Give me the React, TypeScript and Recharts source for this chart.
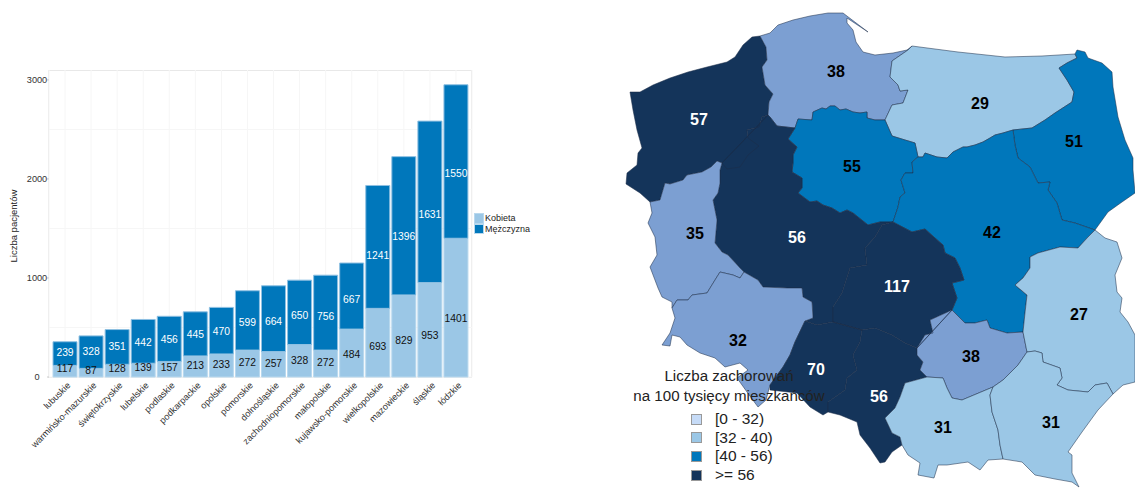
import {
  BarChart,
  Bar,
  XAxis,
  YAxis,
  CartesianGrid,
  LabelList,
  Legend,
  ScatterChart,
  Scatter,
} from "recharts";

// bar chart data
const regions = [
  "lubuskie",
  "warmińsko-mazurskie",
  "świętokrzyskie",
  "lubelskie",
  "podlaskie",
  "podkarpackie",
  "opolskie",
  "pomorskie",
  "dolnośląskie",
  "zachodniopomorskie",
  "małopolskie",
  "kujawsko-pomorskie",
  "wielkopolskie",
  "mazowieckie",
  "śląskie",
  "łódzkie",
];
const women = [117, 87, 128, 139, 157, 213, 233, 272, 257, 328, 272, 484, 693, 829, 953, 1401];
const men = [239, 328, 351, 442, 456, 445, 470, 599, 664, 650, 756, 667, 1241, 1396, 1631, 1550];
const yTicks = [0, 1000, 2000, 3000];
const yMinor = [500, 1500, 2500];

const barData = regions.map((region, i) => ({ region, Kobieta: women[i], Mężczyzna: men[i] }));

const LIGHT = "#9bc7e6";
const MID = "#0077bb";
const DARK = "#14345a";
const PERI = "#7c9fd2";

// map outline, shared borders in picture units
type Pt = [number, number];
const zachCoast: Pt[] = [[630, 92], [640, 92], [653, 85], [670, 78], [688, 72], [707, 67], [727, 62], [735, 57], [743, 45], [752, 37], [760, 36]];
const zachPom: Pt[] = [[760, 36], [766, 47], [767, 60], [762, 67], [765, 85], [773, 94], [769, 102], [768, 115]];
const zachWielk: Pt[] = [[768, 115], [762, 117], [759, 127], [747, 130], [748, 138], [759, 146], [748, 155], [740, 167], [727, 169], [722, 163]];
const zachLub: Pt[] = [[722, 163], [717, 161], [711, 167], [702, 172], [687, 175], [683, 180], [670, 184], [665, 183], [660, 200], [650, 202]];
const zachWest: Pt[] = [[650, 202], [640, 193], [626, 184], [627, 173], [637, 165], [638, 153], [642, 148], [637, 130], [633, 110], [630, 92]];
const pomCoast: Pt[] = [[760, 36], [770, 33], [778, 25], [793, 20], [810, 16], [828, 13], [843, 13], [868, 32], [865, 30], [847, 18], [847, 23], [853, 30], [856, 42], [863, 52], [875, 55], [893, 53], [907, 50], [912, 46]];
const pomWarm: Pt[] = [[912, 46], [908, 50], [892, 61], [890, 77], [898, 85], [900, 91], [908, 90], [903, 103], [892, 105], [885, 120]];
const pomKuj: Pt[] = [[885, 120], [875, 120], [867, 118], [867, 112], [860, 113], [853, 112], [846, 109], [840, 110], [835, 106], [830, 106], [826, 109], [822, 108], [813, 112], [812, 120], [798, 119], [795, 128]];
const pomWielk: Pt[] = [[795, 128], [777, 126], [770, 117], [768, 115]];
const warmCoast: Pt[] = [[912, 46], [958, 52], [1005, 57], [1042, 56], [1075, 54]];
const warmPodl: Pt[] = [[1075, 54], [1077, 58], [1067, 63], [1059, 68], [1067, 80], [1074, 92], [1072, 102], [1055, 113], [1045, 120], [1032, 128], [1013, 130]];
const warmMaz: Pt[] = [[1013, 130], [1003, 133], [995, 135], [990, 138], [983, 142], [975, 145], [967, 147], [963, 147], [953, 152], [947, 158], [937, 157], [925, 153], [923, 157], [918, 157]];
const warmKuj: Pt[] = [[918, 157], [915, 143], [905, 140], [892, 136], [885, 120]];
const podlEast: Pt[] = [[1075, 54], [1077, 50], [1085, 52], [1088, 58], [1102, 63], [1112, 72], [1113, 87], [1118, 117], [1125, 140], [1133, 158], [1133, 170], [1135, 193], [1122, 202], [1108, 212], [1095, 230]];
const podlMaz: Pt[] = [[1095, 230], [1075, 223], [1062, 220], [1057, 203], [1048, 190], [1050, 182], [1038, 183], [1030, 167], [1018, 158], [1015, 145], [1013, 130]];
const kujMaz: Pt[] = [[918, 157], [912, 162], [913, 173], [905, 173], [901, 180], [905, 193], [900, 197], [898, 207], [893, 222]];
const kujWielk: Pt[] = [[893, 222], [880, 222], [868, 225], [853, 213], [847, 210], [840, 213], [832, 208], [823, 205], [817, 201], [810, 202], [798, 193], [802, 188], [802, 178], [792, 172], [793, 163], [793, 155], [797, 147], [788, 139], [795, 128]];
const mazLub: Pt[] = [[1095, 230], [1088, 237], [1078, 248], [1060, 247], [1038, 253], [1030, 257], [1030, 268], [1023, 278], [1015, 285], [1027, 295], [1025, 313], [1023, 332]];
const mazSwiet: Pt[] = [[1023, 332], [1007, 333], [990, 328], [987, 320], [975, 323], [965, 323], [952, 310]];
const mazLodz: Pt[] = [[952, 310], [957, 298], [952, 283], [964, 280], [960, 268], [955, 258], [945, 253], [943, 245], [935, 238], [925, 229], [912, 232], [893, 222]];
const lodzWielk: Pt[] = [[893, 222], [882, 225], [875, 237], [865, 248], [867, 265], [850, 268], [842, 293], [833, 307], [833, 322]];
const lodzSlask: Pt[] = [[833, 322], [862, 330], [875, 328], [892, 335], [905, 343], [917, 348]];
const lodzSwiet: Pt[] = [[917, 348], [925, 335], [933, 333], [930, 320], [952, 310]];
const wielkLub: Pt[] = [[722, 163], [720, 170], [720, 183], [718, 193], [713, 200], [717, 220], [715, 243], [722, 252], [728, 255], [740, 268], [744, 272]];
const wielkDoln: Pt[] = [[744, 272], [758, 280], [763, 287], [787, 288], [802, 288], [803, 297], [812, 302], [813, 318], [805, 321]];
const wielkOpol: Pt[] = [[805, 321], [817, 325], [833, 322]];
const opolDoln: Pt[] = [[805, 321], [795, 342], [790, 355], [783, 367], [770, 385]];
const opolSouth: Pt[] = [[770, 385], [770, 390], [797, 393], [810, 407], [823, 415], [828, 412]];
const opolSlask: Pt[] = [[828, 412], [828, 402], [845, 390], [847, 378], [857, 370], [853, 355], [860, 342], [862, 330]];
const slaskSouth: Pt[] = [[828, 412], [840, 415], [857, 422], [860, 435], [870, 448], [880, 463], [885, 462], [892, 452], [902, 445]];
const slaskMalo: Pt[] = [[902, 445], [900, 437], [892, 433], [885, 418], [895, 408], [900, 397], [905, 383], [927, 377]];
const slaskSwiet: Pt[] = [[927, 377], [920, 370], [923, 362], [917, 355], [917, 348]];
const maloSwiet: Pt[] = [[927, 377], [943, 378], [947, 388], [952, 398], [962, 400], [993, 387]];
const maloPodk: Pt[] = [[993, 387], [990, 395], [992, 412], [998, 430], [1000, 445], [1003, 459]];
const maloSouth: Pt[] = [[1003, 459], [988, 460], [980, 470], [968, 462], [947, 465], [938, 465], [934, 478], [918, 475], [920, 463], [908, 455], [902, 445]];
const swietEast: Pt[] = [[1023, 332], [1027, 352]];
const swietPodk: Pt[] = [[1027, 352], [1018, 365], [1003, 380], [993, 387]];
const lubEast: Pt[] = [[1095, 230], [1105, 238], [1117, 242], [1122, 258], [1115, 275], [1117, 292], [1122, 298], [1120, 312], [1128, 322], [1135, 335], [1135, 382], [1123, 385], [1113, 394]];
const lubPodk: Pt[] = [[1113, 394], [1107, 383], [1095, 385], [1088, 392], [1068, 390], [1057, 385], [1062, 378], [1060, 368], [1043, 362], [1042, 353], [1035, 351], [1027, 352]];
const podkSouth: Pt[] = [[1003, 459], [1022, 462], [1035, 475], [1055, 479], [1072, 482], [1079, 487], [1072, 473], [1072, 455], [1068, 452], [1082, 432], [1098, 410], [1113, 394]];
const lubWest: Pt[] = [[650, 202], [652, 213], [648, 223], [655, 237], [657, 255], [650, 267], [658, 288], [662, 297], [672, 302], [672, 308]];
const lubDoln: Pt[] = [[672, 308], [677, 300], [688, 300], [692, 295], [707, 293], [715, 280], [720, 272], [733, 275], [740, 278], [744, 272]];
const dolnWest: Pt[] = [[672, 308], [675, 318], [670, 333], [662, 345], [670, 346], [672, 335], [680, 337], [687, 345], [700, 353], [715, 358], [725, 367], [740, 363], [748, 370], [737, 378], [747, 392], [758, 407], [766, 400], [770, 385]];

const rev = (arc: Pt[]) => [...arc].reverse();
const ring = (...arcs: Pt[][]) => arcs.flat().map(([x, y]) => ({ x, y }));

const voivodeships = [
  { name: "zachodniopomorskie", fill: DARK, outline: ring(zachCoast, zachPom, zachWielk, zachLub, zachWest) },
  { name: "pomorskie", fill: PERI, outline: ring(pomCoast, pomWarm, pomKuj, pomWielk, rev(zachPom)) },
  { name: "warmińsko-mazurskie", fill: LIGHT, outline: ring(warmCoast, warmPodl, warmMaz, warmKuj, rev(pomWarm)) },
  { name: "podlaskie", fill: MID, outline: ring(podlEast, podlMaz, rev(warmPodl)) },
  { name: "kujawsko-pomorskie", fill: MID, outline: ring(rev(pomKuj), rev(warmKuj), kujMaz, kujWielk) },
  { name: "mazowieckie", fill: MID, outline: ring(rev(warmMaz), rev(podlMaz), mazLub, mazSwiet, mazLodz, rev(kujMaz)) },
  { name: "wielkopolskie", fill: DARK, outline: ring(rev(zachWielk), wielkLub, wielkDoln, wielkOpol, rev(lodzWielk), kujWielk, pomWielk) },
  { name: "łódzkie", fill: DARK, outline: ring(lodzWielk, lodzSlask, lodzSwiet, mazLodz) },
  { name: "lubuskie", fill: PERI, outline: ring(rev(zachLub), wielkLub, rev(lubDoln), rev(lubWest)) },
  { name: "dolnośląskie", fill: PERI, outline: ring(lubDoln, wielkDoln, opolDoln, rev(dolnWest)) },
  { name: "opolskie", fill: DARK, outline: ring(opolDoln, opolSouth, opolSlask, rev(lodzSlask).slice(-1), rev(wielkOpol)) },
  { name: "śląskie", fill: DARK, outline: ring(lodzSlask, rev(slaskSwiet), rev(slaskMalo), rev(slaskSouth), opolSlask) },
  { name: "świętokrzyskie", fill: PERI, outline: ring(rev(lodzSwiet), rev(mazSwiet), swietEast, swietPodk, rev(maloSwiet), slaskSwiet) },
  { name: "małopolskie", fill: LIGHT, outline: ring(maloSwiet, maloPodk, maloSouth, slaskMalo) },
  { name: "lubelskie", fill: LIGHT, outline: ring(lubEast, lubPodk, rev(swietEast), rev(mazLub)) },
  { name: "podkarpackie", fill: LIGHT, outline: ring(rev(swietPodk), rev(lubPodk), rev(podkSouth), rev(maloPodk)) },
];

const mapLabels = [
  { x: 699, y: 119, text: "57", color: "#fff" },
  { x: 836, y: 71, text: "38", color: "#000" },
  { x: 980, y: 103, text: "29", color: "#000" },
  { x: 1074, y: 141, text: "51", color: "#000" },
  { x: 852, y: 166, text: "55", color: "#000" },
  { x: 695, y: 233, text: "35", color: "#000" },
  { x: 797, y: 237, text: "56", color: "#fff" },
  { x: 992, y: 232, text: "42", color: "#000" },
  { x: 897, y: 286, text: "117", color: "#fff" },
  { x: 1079, y: 314, text: "27", color: "#000" },
  { x: 738, y: 340, text: "32", color: "#000" },
  { x: 971, y: 356, text: "38", color: "#000" },
  { x: 816, y: 369, text: "70", color: "#fff" },
  { x: 879, y: 396, text: "56", color: "#fff" },
  { x: 943, y: 427, text: "31", color: "#000" },
  { x: 1051, y: 422, text: "31", color: "#000" },
];

const mapLegend = [
  { label: "[0 - 32)", color: "#c6dbf7" },
  { label: "[32 - 40)", color: LIGHT },
  { label: "[40 - 56)", color: MID },
  { label: ">= 56", color: DARK },
];

const FONT = "'Liberation Sans', Arial, sans-serif";

const segmentLabel = (color: string) => (props: any) => {
  const { x, y, width, height, value } = props;
  return (
    <text
      x={x + width / 2}
      y={y + height * 0.6 - 3.5}
      fill={color}
      fontSize={10.3}
      fontFamily={FONT}
      textAnchor="middle"
      dominantBaseline="central"
    >
      {value}
    </text>
  );
};

const RegionTick = ({ x, y, payload }: any) => (
  <text
    x={x + 6}
    y={y + 1}
    fill="#333"
    fontSize={9.1}
    fontFamily={FONT}
    textAnchor="end"
    transform={`rotate(-45 ${x + 6} ${y + 1})`}
  >
    {payload.value}
  </text>
);

// ggplot centred these labels rather than right aligning them
const CountTick = ({ y, payload }: any) => (
  <text x={37} y={y} fill="#333" fontSize={9.2} fontFamily={FONT} textAnchor="middle" dominantBaseline="central">
    {payload.value}
  </text>
);

const BarLegend = () => (
  <div style={{ fontFamily: FONT, fontSize: 9, color: "#222", lineHeight: "10.5px" }}>
    {[["Kobieta", LIGHT], ["Mężczyzna", MID]].map(([label, color]) => (
      <div key={label} style={{ display: "flex", alignItems: "center" }}>
        <span style={{ width: 10, height: 10.5, background: color, boxSizing: "border-box", border: "0.5px solid #b8d8ee", marginRight: 1 }} />
        {label}
      </div>
    ))}
  </div>
);

const outlineShape = (fill: string) => (props: any) => {
  const d = props.points.map((p: any, i: number) => `${i ? "L" : "M"}${p.x} ${p.y}`).join(" ") + " Z";
  return <path d={d} fill={fill} stroke="#1c2c48" strokeOpacity={0.65} strokeWidth={0.8} strokeLinejoin="round" />;
};

const MapLabel = ({ cx, cy, payload }: any) => (
  <text
    x={cx}
    y={cy}
    fill={payload.color}
    fontSize={16}
    fontWeight={700}
    fontFamily={FONT}
    textAnchor="middle"
    dominantBaseline="central"
  >
    {payload.text}
  </text>
);

export default function App() {
  return (
    <div style={{ position: "absolute", left: 0, top: 0, width: 1135, height: 489, background: "#fff", overflow: "hidden" }}>
      {/* panel border sits under the bars */}
      <div style={{ position: "absolute", left: 48, top: 69.5, width: 424, height: 308, boxSizing: "border-box", border: "1px solid #e8e8e8" }} />
      <div style={{ position: "absolute", left: 0, top: 0 }}>
        <BarChart
          width={540}
          height={489}
          data={barData}
          barCategoryGap={1}
          margin={{ top: 70, right: 0, bottom: 111, left: 48 }}
        >
          <CartesianGrid stroke="#f6f6f6" horizontalValues={[...yTicks, ...yMinor]} />
          <XAxis
            dataKey="region"
            interval={0}
            tick={<RegionTick />}
            tickLine={false}
            axisLine={false}
            padding={{ left: 3, right: 3 }}
            height={1}
          />
          <YAxis
            type="number"
            domain={[0, 3100]}
            ticks={yTicks}
            width={1}
            tick={<CountTick />}
            tickSize={2}
            tickLine={{ stroke: "#ccc" }}
            axisLine={false}
            label={{ value: "Liczba pacjentów", angle: -90, position: "insideLeft", fontSize: 9.5, fontFamily: FONT, fill: "#222", dx: -39, dy: 39 }}
          />
          <Legend
            layout="vertical"
            align="right"
            verticalAlign="top"
            width={68}
            content={<BarLegend />}
            wrapperStyle={{ top: 213, left: 474 }}
          />
          <Bar dataKey="Kobieta" stackId="a" fill={LIGHT} stroke="#b8d8ee" strokeWidth={1} isAnimationActive={false}>
            <LabelList dataKey="Kobieta" content={segmentLabel("#111")} />
          </Bar>
          <Bar dataKey="Mężczyzna" stackId="a" fill={MID} stroke="#8fc0e2" strokeWidth={1} isAnimationActive={false}>
            <LabelList dataKey="Mężczyzna" content={segmentLabel("#fff")} />
          </Bar>
        </BarChart>
      </div>

      <div style={{ position: "absolute", left: 560, top: 0 }}>
        <ScatterChart width={575} height={489} margin={{ top: 0, right: 0, bottom: 0, left: 0 }}>
          <XAxis type="number" dataKey="x" domain={[560, 1135]} hide />
          <YAxis type="number" dataKey="y" domain={[0, 489]} reversed hide />
          {voivodeships.map((v) => (
            <Scatter
              key={v.name}
              name={v.name}
              data={v.outline}
              line={outlineShape(v.fill)}
              shape={() => null}
              isAnimationActive={false}
            />
          ))}
          <Scatter data={mapLabels} shape={<MapLabel />} isAnimationActive={false} />
        </ScatterChart>
      </div>

      {/* map legend */}
      <div style={{ position: "absolute", left: 621, top: 366, width: 216, textAlign: "center", fontFamily: FONT, fontSize: 15.1, lineHeight: "20px", color: "#222" }}>
        Liczba zachorowań
        <br />
        na 100 tysięcy mieszkańców
      </div>
      {mapLegend.map((item, i) => (
        <div key={item.label} style={{ position: "absolute", left: 691, top: 410 + i * 18.7, height: 18, display: "flex", alignItems: "center", fontFamily: FONT, fontSize: 15.5, color: "#222" }}>
          <span style={{ width: 11, height: 11, boxSizing: "border-box", background: item.color, border: "1px solid #999", marginRight: 13 }} />
          {item.label}
        </div>
      ))}
    </div>
  );
}
